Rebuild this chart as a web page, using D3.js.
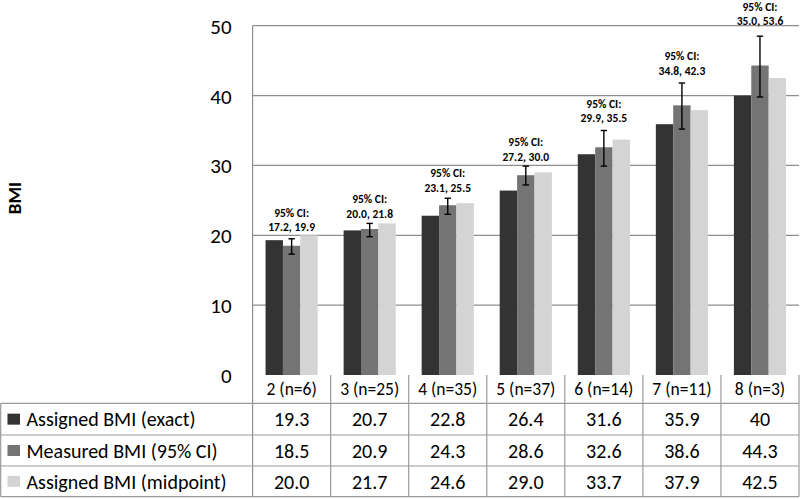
<!DOCTYPE html>
<html><head><meta charset="utf-8">
<script src="https://cdn.jsdelivr.net/npm/d3@7"></script>
<style>body{margin:0;background:#fff}svg{display:block}text{font-family:Carlito,Lato,sans-serif;fill:#000}</style>
</head><body><svg id="c" width="800" height="499"></svg>
<script>
const categories = ["2 (n=6)","3 (n=25)","4 (n=35)","5 (n=37)","6 (n=14)","7 (n=11)","8 (n=3)"];
const seriesNames = ["Assigned BMI (exact)","Measured BMI (95% CI)","Assigned BMI (midpoint)"];
const exactBMI = [19.3,20.7,22.8,26.4,31.6,35.9,40];
const measuredBMI = [18.5,20.9,24.3,28.6,32.6,38.6,44.3];
const midpointBMI = [20.0,21.7,24.6,29.0,33.7,37.9,42.5];
const ciLow = [17.2,20.0,23.1,27.2,29.9,34.8,35.0];
const ciHigh = [19.9,21.8,25.5,30.0,35.5,42.3,53.6];
const errLow = [17.3,19.8,23.0,27.2,29.9,35.2,39.8];
const errHigh = [19.5,21.7,25.3,29.9,35.0,41.8,48.5];
const yTicks = [0,10,20,30,40,50];
const colors = ["#333333","#747474","#d4d4d4"];

const series = [exactBMI, measuredBMI, midpointBMI];
const fmts = [v=>String(v), v=>v.toFixed(1), v=>v.toFixed(1)];

const svg = d3.select("#c");
const L = 252.6, R = 799, T = 25.7, B = 375;
const rowY = [375, 403.3, 435, 466, 496.7];
const x0 = d3.scaleBand().domain(categories).range([L, R]).padding(0);
const x1 = d3.scaleBand().domain([0,1,2]).range([0, x0.bandwidth()]).paddingInner(0).paddingOuter(0.745);
const y = d3.scaleLinear().domain([0,50]).range([B, T]);

// gridlines
svg.append("g").selectAll("line").data(yTicks.filter(t=>t>0)).join("line")
  .attr("x1", L).attr("x2", R).attr("y1", d=>y(d)).attr("y2", d=>y(d))
  .attr("stroke", "#8e8e8e").attr("stroke-width", 1.2);

// y axis tick labels
const yAxis = d3.axisLeft(y).tickValues(yTicks).tickSize(0).tickPadding(21);
const ga = svg.append("g").attr("transform", `translate(${L},0)`).call(yAxis);
ga.select(".domain").remove();
ga.selectAll("text").attr("font-size", 21).attr("font-family", "Carlito,Lato,sans-serif").attr("dy", "0.36em");

// axis left line
svg.append("line").attr("x1", L).attr("x2", L).attr("y1", T).attr("y2", rowY[4]).attr("stroke", "#8e8e8e").attr("stroke-width", 1.2);

// y title
svg.append("text").attr("transform", "translate(21,198) rotate(-90)")
  .attr("text-anchor", "middle").attr("font-weight", "bold").attr("font-size", 19).text("BMI");

// bars
const groups = svg.append("g").selectAll("g").data(categories).join("g")
  .attr("transform", c=>`translate(${x0(c)},0)`);
groups.selectAll("rect").data((c,i)=>series.map((s,k)=>({k, v:s[i]}))).join("rect")
  .attr("x", d=>x1(d.k)).attr("width", x1.bandwidth())
  .attr("y", d=>y(d.v)).attr("height", d=>y(0)-y(d.v))
  .attr("fill", d=>colors[d.k]);

// error bars
const cx = i => x0(categories[i]) + x1(1) + x1.bandwidth()/2;
const eb = svg.append("g").attr("stroke", "#000").attr("stroke-width", 1.4);
categories.forEach((c,i)=>{
  eb.append("line").attr("x1", cx(i)).attr("x2", cx(i)).attr("y1", y(errLow[i])).attr("y2", y(errHigh[i]));
  [errLow[i], errHigh[i]].forEach(v=>{
    eb.append("line").attr("x1", cx(i)-3.2).attr("x2", cx(i)+3.2).attr("y1", y(v)).attr("y2", y(v));
  });
});

// CI labels
categories.forEach((c,i)=>{
  const mid = x0(c) + x0.bandwidth()/2;
  let l2 = Math.max(y(ciHigh[i]) - 9, 21);
  const l1 = l2 - 14.5;
  const g = svg.append("g").attr("font-weight", "bold").attr("font-size", 11.5).attr("text-anchor", "middle");
  g.append("text").attr("x", mid).attr("y", l1).attr("dy", "0.36em").text("95% CI:");
  g.append("text").attr("x", mid).attr("y", l2).attr("dy", "0.36em").text(ciLow[i].toFixed(1) + ", " + ciHigh[i].toFixed(1));
});

// table
const tbl = svg.append("g").attr("stroke", "#9a9a9a").attr("stroke-width", 1.2);
rowY.slice(1).forEach(ry=>{
  tbl.append("line").attr("x1", 0.7).attr("x2", R).attr("y1", ry).attr("y2", ry);
});
tbl.append("line").attr("x1", 0.7).attr("x2", 0.7).attr("y1", rowY[1]).attr("y2", rowY[4]);
categories.forEach((c,i)=>{
  const xx = x0(c) + x0.bandwidth();
  tbl.append("line").attr("x1", xx).attr("x2", xx).attr("y1", rowY[0]).attr("y2", rowY[4]);
});
// header row
svg.append("g").selectAll("text").data(categories).join("text")
  .attr("x", c=>x0(c)+x0.bandwidth()/2).attr("y", (rowY[0]+rowY[1])/2).attr("dy", "0.36em")
  .attr("text-anchor", "middle").attr("font-size", 17.5).text(c=>c);
// rows
series.forEach((s,k)=>{
  const cy = (rowY[k+1]+rowY[k+2])/2;
  svg.append("rect").attr("x", 7.5).attr("y", cy-5.5).attr("width", 12.5).attr("height", 11).attr("fill", colors[k]);
  svg.append("text").attr("x", 26.5).attr("y", cy).attr("dy", "0.36em").attr("font-size", 20).text(seriesNames[k]);
  svg.append("g").selectAll("text").data(s).join("text")
    .attr("x", (v,i)=>x0(categories[i])+x0.bandwidth()/2).attr("y", cy).attr("dy", "0.36em")
    .attr("text-anchor", "middle").attr("font-size", 20).text(v=>fmts[k](v));
});
</script></body></html>
